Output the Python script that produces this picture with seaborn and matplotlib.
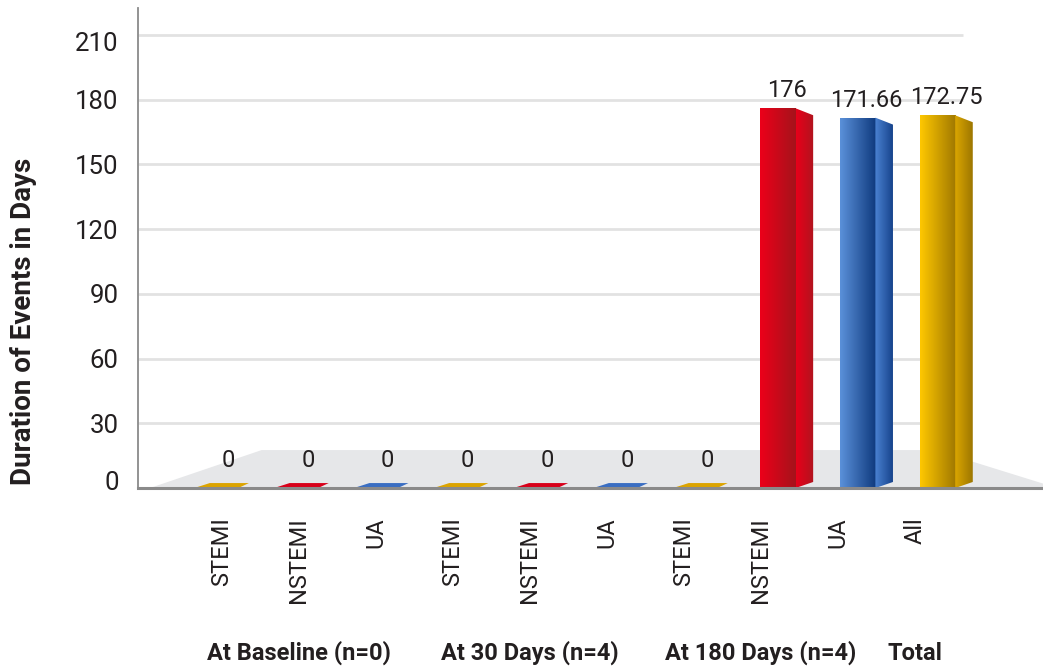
import numpy as np
import pandas as pd
import matplotlib
matplotlib.use("Agg")
import matplotlib.pyplot as plt
from matplotlib.patches import Polygon
from matplotlib.colors import LinearSegmentedColormap
from matplotlib.transforms import ScaledTranslation, blended_transform_factory
import seaborn as sns

# ---- data ----
categories = ["STEMI", "NSTEMI", "UA", "STEMI", "NSTEMI", "UA",
              "STEMI", "NSTEMI", "UA", "All"]
event_type = ["STEMI", "NSTEMI", "UA", "STEMI", "NSTEMI", "UA",
              "STEMI", "NSTEMI", "UA", "All"]
values = [0, 0, 0, 0, 0, 0, 0, 176, 171.66, 172.75]
value_labels = ["0", "0", "0", "0", "0", "0", "0", "176", "171.66", "172.75"]
groups = ["At Baseline (n=0)", "At 30 Days (n=4)", "At 180 Days (n=4)", "Total"]
group_center_index = [1, 4, 7, 9]
y_ticks = [0, 30, 60, 90, 120, 150, 180, 210]

# colour ramps per event type: (front light, front dark, side light, side dark, flat cap)
ramps = {
    "STEMI":  ("#ffc800", "#a07800", "#dba600", "#9c7600", "#dca400"),
    "NSTEMI": ("#ec0019", "#a5131b", "#e8001a", "#b0141e", "#d8001a"),
    "UA":     ("#5b91da", "#0f3a7e", "#4b82d2", "#16438c", "#3a6ec2"),
    "All":    ("#ffc800", "#a07800", "#dba600", "#9c7600", "#dca400"),
}
palette = {k: v[0] for k, v in ramps.items()}

df = pd.DataFrame({"pos": np.arange(len(values)), "value": values, "kind": event_type})

sns.set_theme(style="white")
plt.rcParams["font.family"] = ["Roboto", "DejaVu Sans"]
text_color = "#231f20"

fig = plt.figure(figsize=(10.43, 6.71), dpi=100)
ax = fig.add_axes([0.1323, 0.2727, 0.8677, 0.7154])

bar_w = 0.44
side_w = 0.22
sns.barplot(data=df, x="pos", y="value", hue="kind", palette=palette,
            dodge=False, width=bar_w, legend=False, ax=ax, zorder=3,
            linewidth=0)
bars = [p for p in ax.patches]

xlim = (-1.02, 10.32)
ylim = (0, 222.5)

# floor of the pseudo-3D stage
floor = Polygon([(-0.87, 0), (0.53, 17.6), (8.97, 17.6), (10.5, 0)],
                closed=True, facecolor="#e6e7e9", edgecolor="none", zorder=0.5)
ax.add_patch(floor)

# horizontal gridlines
ax.hlines(y_ticks[1:], xlim[0], 9.32, colors="#e2e2e2", linewidth=2, zorder=0.2)


def gradient_fill(patch, c0, c1, x0, x1, y0, y1, z):
    cmap = LinearSegmentedColormap.from_list("g", [c0, c1])
    grad = np.linspace(0, 1, 256).reshape(1, -1)
    im = ax.imshow(grad, extent=[x0, x1, y0, y1], aspect="auto", cmap=cmap,
                   origin="lower", zorder=z, interpolation="bilinear")
    im.set_clip_path(patch)


for bar in bars:
    x0 = bar.get_x()
    w = bar.get_width()
    h = bar.get_height()
    idx = int(round(x0 + w / 2))
    kind = event_type[idx]
    fl, fd, sl, sd, cap = ramps[kind]
    v = values[idx]
    if v > 0:
        bar.set_facecolor("none")
        gradient_fill(bar, fl, fd, x0, x0 + w, 0, h, 3)
        xr = x0 + w
        side = Polygon([(xr, 0), (xr + side_w, 2.8), (xr + side_w, h - 3.2), (xr, h)],
                       closed=True, facecolor="none", edgecolor="none", zorder=3)
        ax.add_patch(side)
        gradient_fill(side, sl, sd, xr, xr + side_w, 0, h, 3)
        offset = 6
    else:
        c = x0 + w / 2
        flat = Polygon([(c - 0.28, v + 0.4), (c + 0.26, v + 0.4),
                        (c + 0.37, v + 2.3), (c - 0.12, v + 2.3)],
                       closed=True, facecolor=cap, edgecolor="none", zorder=3)
        ax.add_patch(flat)
        offset = 16
    ax.annotate(value_labels[idx], xy=(x0 + w / 2 + 0.11, v),
                xytext=(0, offset), textcoords="offset pixels",
                ha="center", va="bottom", fontsize=17, color=text_color, zorder=5)

ax.set_xlim(*xlim)
ax.set_ylim(*ylim)

# category tick labels
tick_pos = [0.965 * i + 0.03 for i in range(len(categories))]
ax.set_xticks(tick_pos)
ax.set_xticklabels(categories, rotation=90, fontsize=17, color=text_color)
ax.set_yticks(y_ticks)
ax.set_yticklabels([str(t) for t in y_ticks], fontsize=18.5, color=text_color)
ax.tick_params(axis="x", length=0, pad=21)
ax.tick_params(axis="y", length=0, pad=14)
ax.set_xlabel("")
ax.set_ylabel("")
ax.grid(False)

# nudge the outermost value ticks as drawn
ylabels = ax.get_yticklabels()
ylabels[0].set_transform(ylabels[0].get_transform() + ScaledTranslation(0, 8 / 100, fig.dpi_scale_trans))
ylabels[-1].set_transform(ylabels[-1].get_transform() + ScaledTranslation(0, -7 / 100, fig.dpi_scale_trans))

for s in ["top", "right"]:
    ax.spines[s].set_visible(False)
ax.spines["left"].set_color("#8a8a8a")
ax.spines["left"].set_linewidth(1.3)
ax.spines["bottom"].set_color("#8a8a8a")
ax.spines["bottom"].set_linewidth(2.2)
ax.spines["bottom"].set_zorder(4)

# group captions under the categories
caption_tf = blended_transform_factory(ax.transData, fig.transFigure)
for g, i in zip(groups, group_center_index):
    ax.text(tick_pos[i], 1 - 653 / 671, g, transform=caption_tf,
            ha="center", va="center", fontsize=17, fontweight="bold", color=text_color)

fig.text(24 / 1043, 1 - 321 / 671, "Duration of Events in Days", rotation=90,
         ha="center", va="center", fontsize=20, fontweight="bold", color=text_color)

fig.savefig("out.png", dpi=100)
